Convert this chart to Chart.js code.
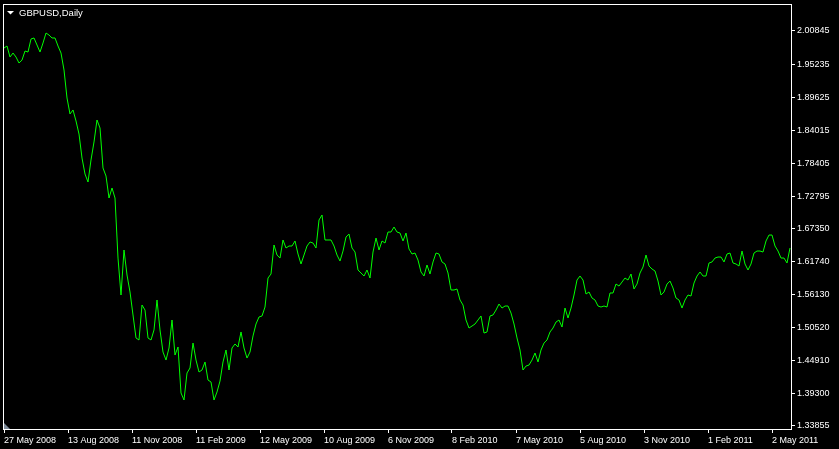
<!DOCTYPE html>
<html>
<head>
<meta charset="utf-8">
<script src="https://cdn.jsdelivr.net/npm/chart.js@4.4.1/dist/chart.umd.min.js"></script>
<style>
  html, body { margin: 0; padding: 0; background: #000; }
  #wrap { width: 839px; height: 449px; }
</style>
</head>
<body>
<div id="wrap"><canvas id="chart" width="839" height="449"></canvas></div>
<script>
// ---------------- DATA ----------------
const symbolTitle = "GBPUSD,Daily";
const barStep = 3;          // one close read every 3 daily bars
const lastBar = 787;        // bars visible in the window
const barsPerLabel = 64;    // MT4 puts a date label every 64 bars

const closes = [
    1.9796, 1.9830, 1.9643, 1.9711, 1.9643, 1.9541, 1.9592, 1.9745, 1.9728, 1.9949,
    1.9966, 1.9847, 1.9728, 1.9881, 2.0050, 2.0016, 1.9966, 1.9966, 1.9830, 1.9711,
    1.9423, 1.8948, 1.8677, 1.8745, 1.8558, 1.8337, 1.7930, 1.7659, 1.7523, 1.7897,
    1.8202, 1.8575, 1.8439, 1.7761, 1.7625, 1.7252, 1.7422, 1.7252, 1.6234, 1.5607,
    1.6370, 1.5946, 1.5658, 1.5268, 1.4878, 1.4844, 1.5437, 1.5352, 1.4878, 1.4844,
    1.5014, 1.5522, 1.5014, 1.4640, 1.4504, 1.4708, 1.5183, 1.4589, 1.4725, 1.3945,
    1.3826, 1.4284, 1.4369, 1.4792, 1.4504, 1.4301, 1.4335, 1.4471, 1.4165, 1.4131,
    1.3826, 1.3962, 1.4148, 1.4471, 1.4674, 1.4335, 1.4708, 1.4776, 1.4725, 1.4980,
    1.4708, 1.4538, 1.4640, 1.4912, 1.5115, 1.5234, 1.5251, 1.5403, 1.5895, 1.5963,
    1.6455, 1.6285, 1.6234, 1.6540, 1.6404, 1.6438, 1.6438, 1.6523, 1.6302, 1.6133,
    1.6285, 1.6438, 1.6506, 1.6489, 1.6404, 1.6879, 1.6964, 1.6540, 1.6540, 1.6540,
    1.6438, 1.6285, 1.6183, 1.6353, 1.6590, 1.6641, 1.6404, 1.6336, 1.6031, 1.5980,
    1.5929, 1.6031, 1.5895, 1.6336, 1.6573, 1.6370, 1.6523, 1.6489, 1.6675, 1.6675,
    1.6760, 1.6675, 1.6658, 1.6523, 1.6658, 1.6387, 1.6302, 1.6319, 1.6200, 1.5997,
    1.5929, 1.6116, 1.5963, 1.6167, 1.6319, 1.6302, 1.6167, 1.6133, 1.5980, 1.5692,
    1.5692, 1.5709, 1.5522, 1.5437, 1.5183, 1.5047, 1.5081, 1.5115, 1.5183, 1.5251,
    1.4962, 1.4980, 1.5251, 1.5268, 1.5352, 1.5454, 1.5386, 1.5420, 1.5420, 1.5301,
    1.5115, 1.4878, 1.4674, 1.4335, 1.4402, 1.4419, 1.4504, 1.4623, 1.4471, 1.4674,
    1.4792, 1.4844, 1.4980, 1.5047, 1.5149, 1.5183, 1.5064, 1.5386, 1.5217, 1.5386,
    1.5607, 1.5861, 1.5929, 1.5861, 1.5624, 1.5658, 1.5556, 1.5522, 1.5420, 1.5403,
    1.5420, 1.5403, 1.5641, 1.5641, 1.5793, 1.5759, 1.5827, 1.5895, 1.5861, 1.5963,
    1.5709, 1.5793, 1.5980, 1.6082, 1.6285, 1.6099, 1.6048, 1.6014, 1.5844, 1.5607,
    1.5658, 1.5793, 1.5844, 1.5726, 1.5556, 1.5522, 1.5386, 1.5522, 1.5607, 1.5590,
    1.5810, 1.5929, 1.5997, 1.5929, 1.5929, 1.6150, 1.6167, 1.6234, 1.6251, 1.6251,
    1.6167, 1.6302, 1.6319, 1.6150, 1.6133, 1.6099, 1.6353, 1.6133, 1.6031, 1.6133,
    1.6319, 1.6353, 1.6353, 1.6336, 1.6523, 1.6624, 1.6624, 1.6438, 1.6353, 1.6234,
    1.6234, 1.6150, 1.6404
];

const priceTicks = [
    2.00845, 1.95235, 1.89625, 1.84015, 1.78405, 1.72795, 1.67350,
    1.61740, 1.56130, 1.50520, 1.44910, 1.39300, 1.33855
];
const priceMin = 1.33344;
const priceMax = 2.05424;

const dateLabels = [
    "27 May 2008", "13 Aug 2008", "11 Nov 2008", "11 Feb 2009", "12 May 2009",
    "10 Aug 2009", "6 Nov 2009", "8 Feb 2010", "7 May 2010", "5 Aug 2010",
    "3 Nov 2010", "1 Feb 2011", "2 May 2011"
];

// ---------------- STYLE ----------------
const axisFont = { family: "'Liberation Sans', Arial, sans-serif", size: 9 };
const lineGreen = "#00ff00";

// frame, title and the little shift marker, MT4 style
const mtFrame = {
    id: "mtFrame",
    beforeDraw(chart) {
        const ctx = chart.ctx;
        ctx.save();
        ctx.fillStyle = "#000";
        ctx.fillRect(0, 0, chart.width, chart.height);
        ctx.restore();
    },
    afterDraw(chart) {
        const { ctx, chartArea: a } = chart;
        ctx.save();
        ctx.strokeStyle = "#fff";
        ctx.lineWidth = 1;
        ctx.strokeRect(a.left + 0.5, a.top + 0.5, a.right - a.left, a.bottom - a.top);

        // shift marker bottom-left
        ctx.fillStyle = "#7d8a98";
        ctx.beginPath();
        ctx.moveTo(a.left + 1, a.bottom - 6);
        ctx.lineTo(a.left + 1, a.bottom);
        ctx.lineTo(a.left + 7, a.bottom);
        ctx.closePath();
        ctx.fill();

        // title
        ctx.fillStyle = "#fff";
        ctx.beginPath();
        ctx.moveTo(a.left + 4, a.top + 7);
        ctx.lineTo(a.left + 11, a.top + 7);
        ctx.lineTo(a.left + 7.5, a.top + 10.5);
        ctx.closePath();
        ctx.fill();
        ctx.font = "9.5px 'Liberation Sans', Arial, sans-serif";
        ctx.textBaseline = "middle";
        ctx.fillText(symbolTitle, a.left + 16, a.top + 9);
        ctx.restore();
    }
};

// -------------------- CHART --------------------
new Chart("chart", {
    type: "line",
    data: {
        datasets: [{
            data: closes.map((v, i) => ({ x: i * barStep, y: v })),
            borderColor: lineGreen,
            borderWidth: 1,
            pointRadius: 0,
            tension: 0,
            fill: false
        }]
    },
    options: {
        responsive: false,
        animation: false,
        devicePixelRatio: 1,
        layout: { padding: { left: 3, top: 4, right: 0, bottom: 0 } },
        plugins: { legend: { display: false }, tooltip: { enabled: false } },
        scales: {
            x: {
                type: "linear",
                min: -1,
                max: lastBar,
                afterBuildTicks: s => {
                    s.ticks = dateLabels.map((_, i) => ({ value: i * barsPerLabel }));
                },
                afterFit: s => {
                    s.height = 20;
                    s.paddingLeft = 0;
                    s.paddingRight = 0;
                },
                border: { display: false },
                grid: { drawOnChartArea: false, drawTicks: true, tickLength: 4, color: "#fff" },
                ticks: {
                    color: "#fff",
                    font: axisFont,
                    align: "start",
                    padding: 2,
                    maxRotation: 0,
                    autoSkip: false,
                    callback: (v, i) => dateLabels[i]
                }
            },
            y: {
                position: "right",
                min: priceMin,
                max: priceMax,
                afterBuildTicks: s => {
                    s.ticks = priceTicks.map(v => ({ value: v }));
                },
                afterFit: s => {
                    s.width = 48;
                    s.paddingTop = 0;
                    s.paddingBottom = 0;
                },
                border: { display: false },
                grid: { drawOnChartArea: false, drawTicks: true, tickLength: 4, color: "#fff" },
                ticks: {
                    color: "#fff",
                    font: axisFont,
                    padding: 2,
                    callback: v => v.toFixed(5)
                }
            }
        }
    },
    plugins: [mtFrame]
});
</script>
</body>
</html>
